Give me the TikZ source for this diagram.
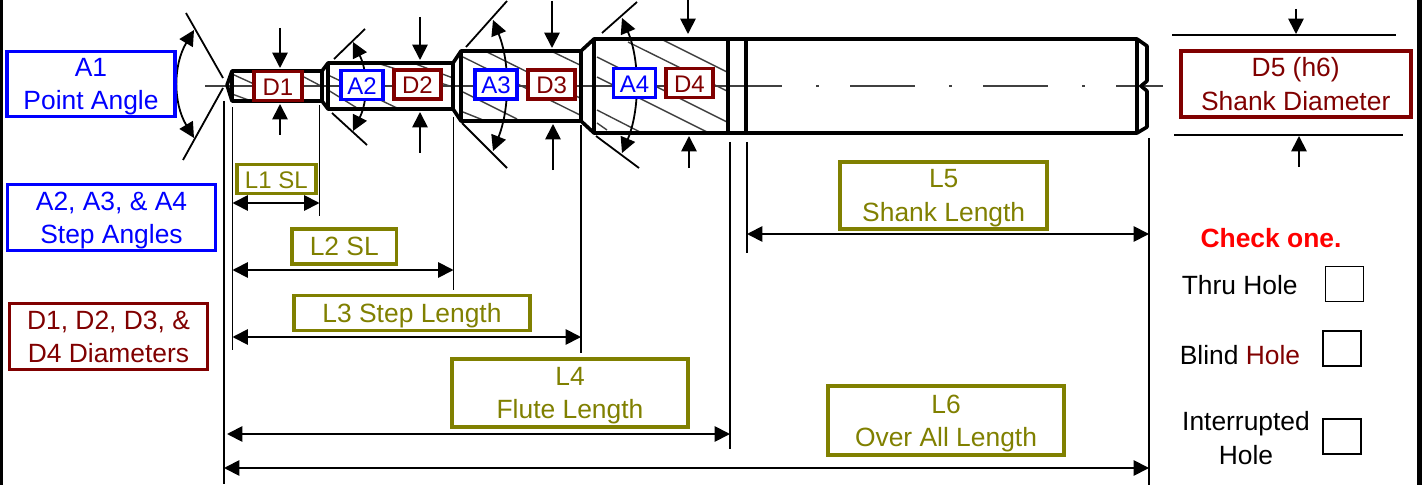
\documentclass[tikz,border=0pt]{standalone}
\usepackage{fontspec}
\setmainfont{Liberation Sans}
\usetikzlibrary{arrows.meta,positioning,calc}
\definecolor{angleblue}{HTML}{0000FF}
\definecolor{diamred}{HTML}{800000}
\definecolor{lenolive}{HTML}{808000}
\def\px{0.75pt} % one pixel of the reference
\tikzset{
    bigtip/.tip={Triangle[length=11.5pt,width=11.5pt]},
    dimline/.style={line width=1.8*\px, black},
    dimboth/.style={dimline, {bigtip}-{bigtip}},
    dimin/.style={dimline, -{bigtip}},
    toolline/.style={line width=3.6*\px, line join=round, black},
    hatchline/.style={line width=1.4*\px, black!75},
    tagbox/.style={draw, fill=white, line width=3.8*\px, inner sep=0pt, align=center,
        font=\fontsize{19.8}{25}\selectfont, text depth=0pt},
    smalltag/.style={tagbox, font=\fontsize{18}{22}\selectfont, text height=14pt},
    anglebox/.style={text=angleblue, draw=angleblue},
    diambox/.style={text=diamred, draw=diamred},
    lenbox/.style={text=lenolive, draw=lenolive},
    checkbox/.style={draw, line width=1.8*\px, minimum width=38*\px, minimum height=35*\px, inner sep=0pt},
    plaintext/.style={inner sep=0pt, align=center, font=\fontsize{19.8}{25}\selectfont}
}

\begin{document}
\begin{tikzpicture}[x=0.75pt, y=-0.75pt]
    \useasboundingbox (0,0) rectangle (1422,485);
    \fill (0,0) rectangle (3,485);
    \fill (1417,0) rectangle (1422,485);

    % centre line
    \draw [line width=1.7*\px, black!75] (205,86) -- (782,86);
    \foreach \xa/\xb in {816/819, 850/915, 949/952, 983/1048, 1082/1085, 1116/1163}
    \draw [line width=1.7*\px, black!75] (\xa,86) -- (\xb,86);

    % hatching
    \foreach \xa/\ya/\xb/\yb in {232/74/254/84, 232/94/254/102, 304/77/321/86,
        377/63/453/87, 413/63/453/78, 328/75/397/108, 328/90/357/108,
        463/57/580/115, 487/52/580/98, 553/52/580/65, 463/92/517/119, 463/112/483/120,
        663/40/727/72, 628/42/727/91, 597/57/727/122, 597/77/707/132, 597/110/640/132, 597/123/607/130}
    \draw [hatchline] (\xa,\ya) -- (\xb,\yb);

    % tool outline
    \draw [toolline] (227,85) -- (232,71) -- (322,71) -- (328,63) -- (453,63) -- (461,51)
        -- (581,51) -- (594,39) -- (1137,39) -- (1147,46) -- (1147,81) -- (1141,86)
        -- (1147,91) -- (1147,127) -- (1137,133) -- (594,133) -- (581,121) -- (461,121)
        -- (453,109) -- (328,109) -- (322,101) -- (232,101) -- cycle;
    \foreach \x/\ya/\yb in {232/71/101, 322/71/101, 328/63/109, 453/63/109, 461/51/121,
        581/51/121, 594/39/133, 728/39/133, 746/39/133, 1137/39/133}
    \draw [toolline] (\x,\ya) -- (\x,\yb);

    % angle witness lines
    \foreach \xa/\ya/\xb/\yb in {186/13/223/78, 183/160/223/88, 334/59/365/29, 332/113/367/145,
        466/47/507/1, 462/123/507/168, 602/33/637/2, 596/136/639/168}
    \draw [dimline] (\xa,\ya) -- (\xb,\yb);

    \coordinate (AP1a) at (194,30);    \coordinate (AP1b) at (194,138);
    \coordinate (AP2a) at (353,42);    \coordinate (AP2b) at (353,131);
    \coordinate (AP3a) at (493,20);    \coordinate (AP3b) at (493,151);
    \coordinate (AP4a) at (622,18);    \coordinate (AP4b) at (622,153);
    \draw [dimboth] (AP1a) .. controls (173,65) and (173,103) .. (AP1b);
    \draw [dimboth] (AP2a) .. controls (368,72) and (368,101) .. (AP2b);
    \draw [dimboth] (AP3a) .. controls (510,62) and (510,108) .. (AP3b);
    \draw [dimboth] (AP4a) .. controls (640,60) and (640,110) .. (AP4b);

    % diameter arrows
    \foreach \name/\xa/\ya/\xb/\yb in {D1t/280/28/280/68, D1u/280/135/280/104,
        D2t/420/17/420/60, D2u/420/153/420/112,
        D3t/552/1/552/48, D3u/553/170/553/124,
        D4t/688/0/688/34, D4u/689/168/689/136,
        D5t/1296/9/1296/34, D5u/1299/167/1299/136}
    {
        \coordinate (\name s) at (\xa,\ya);
        \coordinate (\name e) at (\xb,\yb);
        \draw [dimin] (\name s) -- (\name e);
    }
    \draw [dimline] (1172,35) -- (1396,35);
    \draw [dimline] (1174,135) -- (1403,135);

    % extension lines
    \foreach \name/\x/\ya/\yb in {E1/224/101/484, E2/232.5/107/350, E3/319.5/105/216,
        E4/453.5/117/290, E5/581/125/353, E6/730/142/449, E7/747/142/253, E8/1149/138/485}
    {
        \coordinate (\name s) at (\x,\ya);
        \coordinate (\name e) at (\x,\yb);
        \draw [dimline] (\name s) -- (\name e);
    }

    % length arrows
    \foreach \name/\xa/\xb/\y in {L1/232.5/319.5/203, L2/232.5/453.5/270, L3/232.5/581/337,
        L4/227/730/434, L5/747/1149/234, L6/224/1149/468}
    {
        \coordinate (\name a) at (\xa,\y);
        \coordinate (\name b) at (\xb,\y);
        \draw [dimboth] (\name a) -- (\name b);
    }

    % left legend
    \node (A1box) at (91,84) [tagbox, anglebox, minimum width=168*\px, minimum height=65*\px]
    {A1\\Point Angle};
    \node (Astepbox) at (111.5,217.5) [tagbox, anglebox, minimum width=208*\px, minimum height=66*\px]
    {A2, A3, \& A4\\Step Angles};
    \node (Dallbox) at (108.5,336.5) [tagbox, diambox, minimum width=198*\px, minimum height=66*\px]
    {D1, D2, D3, \&\\D4 Diameters};

    % labels on the tool
    \foreach \name/\x/\y/\boxw in {D1/278/86/48, D2/417.5/84.5/47, D3/551.7/84.5/47, D4/689.5/83/47}
    \node (\name box) at (\x,\y) [smalltag, diambox, minimum width=\boxw*\px, minimum height=29*\px] {\name};
    \foreach \name/\x/\y/\boxw in {A2/362/85/42, A3/496/84.5/42, A4/634.5/83/42}
    \node (\name box) at (\x,\y) [smalltag, anglebox, minimum width=\boxw*\px, minimum height=29*\px] {\name};

    \node (D5box) at (1295.7,84) [tagbox, diambox, minimum width=230*\px, minimum height=66*\px]
    {D5 (h6)\\Shank Diameter};

    % length labels
    \node (L1box) at (276.3,179) [smalltag, lenbox, minimum width=79*\px, minimum height=29*\px] {L1 SL};
    \node (L2box) at (344.3,246.7) [tagbox, lenbox, minimum width=104.5*\px, minimum height=35*\px] {L2 SL};
    \node (L3box) at (412,313) [tagbox, lenbox, minimum width=236*\px, minimum height=35*\px] {L3 Step Length};
    \node (L4box) at (570,393) [tagbox, lenbox, minimum width=236*\px, minimum height=68*\px] {L4\\Flute Length};
    \node (L5box) at (943.7,195.5) [tagbox, lenbox, minimum width=207*\px, minimum height=67*\px] {L5\\Shank Length};
    \node (L6box) at (946,420.5) [tagbox, lenbox, minimum width=236*\px, minimum height=69*\px] {L6\\Over All Length};

    % hole type
    \node (checktext) at (1271,238) [plaintext, text=red, font=\fontsize{19.8}{25}\selectfont\bfseries] {Check one.};
    \node (thrutext) at (1239.7,285) [plaintext] {Thru Hole};
    \node (blindtext) at (1240,355) [plaintext] {Blind {\color{diamred}Hole}};
    \node (interrupttext) at (1246,438) [plaintext] {Interrupted\\Hole};
    \node (thrubox) at (1344.5,284) [checkbox] {};
    \node (blindbox) at (1342.3,348.3) [checkbox] {};
    \node (interruptbox) at (1342.3,436.5) [checkbox] {};
\end{tikzpicture}
\end{document}
